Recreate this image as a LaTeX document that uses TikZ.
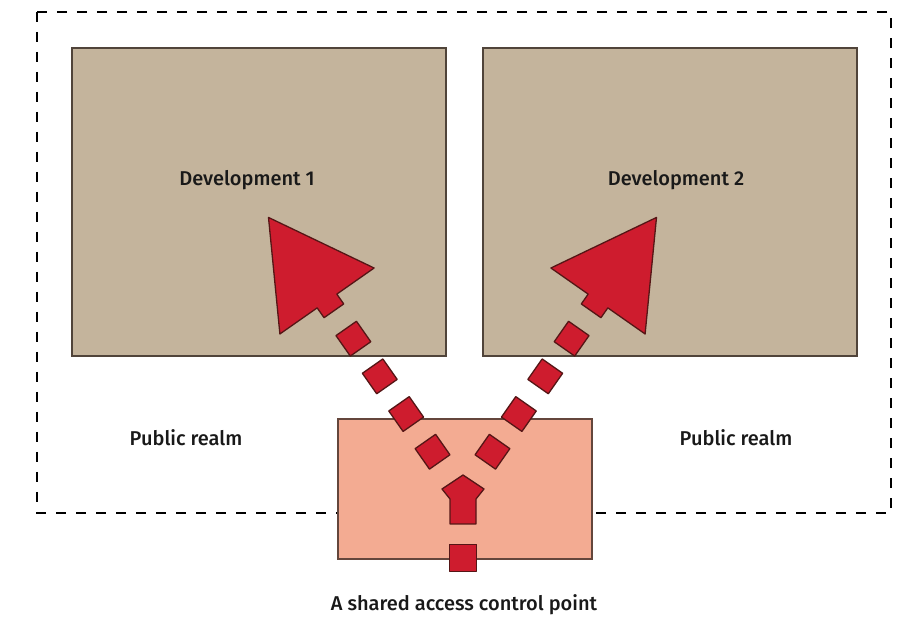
\documentclass[tikz,border=0pt]{standalone}
\usepackage{fontspec}
\setmainfont{Fira Sans}[UprightFont={* Medium}]
\definecolor{plotcol}{RGB}{196,180,156}
\definecolor{plotedge}{RGB}{80,68,58}
\definecolor{accesscol}{RGB}{243,171,146}
\definecolor{accessedge}{RGB}{100,70,60}
\definecolor{markred}{RGB}{206,28,46}
\definecolor{markedge}{RGB}{85,22,22}

\begin{document}
\begin{tikzpicture}[x=1pt,y=1pt,every node/.style={font=\fontsize{20}{23}\selectfont,text=black!90},
    plot/.style={fill=plotcol,draw=plotedge,line width=1.6pt},
    redbit/.style={fill=markred,draw=markedge,line width=1.3pt,line join=round},
    stone/.style={redbit,rectangle,minimum size=25pt,inner sep=0pt,transform shape}]
            \useasboundingbox (0,0) rectangle (898,623);

            % site boundary
            \draw[line width=2.4pt,dash pattern=on 10pt off 10pt] (37,611) rectangle (891,110);

            % plots and shared access
            \draw[plot] (72,575) rectangle (446,267);
            \draw[plot] (483,575) rectangle (857,267);
            \draw[fill=accesscol,draw=accessedge,line width=1.6pt] (338,204) rectangle (592,64);

            \node (dev1) at (247,443) {Development 1};
            \node (dev2) at (676,443) {Development 2};
            \node (pub1) at (186,185) {Public realm};
            \node (pub2) at (736,185) {Public realm};
            \node (cap) at (464,18) {A shared access control point};

            % left route
            \begin{scope}[shift={(327,322)},rotate=125]
                \draw[redbit] (0,12) -- (0,57.5) -- (102,0) -- (0,-57.5) -- (0,-12) -- (-12,-12) -- (-12,12) -- cycle;
                \node[stone] (l1) at (-46,0) {};
                \node[stone] (l2) at (-92,0) {};
                \node[stone] (l3) at (-138,0) {};
                \node[stone] (l4) at (-184,0) {};
            \end{scope}

            % right route
            \begin{scope}[shift={(598,322)},rotate=55]
                \draw[redbit] (0,12) -- (0,57.5) -- (102,0) -- (0,-57.5) -- (0,-12) -- (-12,-12) -- (-12,12) -- cycle;
                \node[stone] (r1) at (-46,0) {};
                \node[stone] (r2) at (-92,0) {};
                \node[stone] (r3) at (-138,0) {};
                \node[stone] (r4) at (-184,0) {};
            \end{scope}

            % entry point
            \draw[redbit] (463,148) -- (484,134) -- (476,124) -- (476,99) -- (450,99) -- (450,124) -- (442,134) -- cycle;
            \node[stone,minimum size=27pt] (gate) at (463,65) {};
        \end{tikzpicture}
\end{document}
